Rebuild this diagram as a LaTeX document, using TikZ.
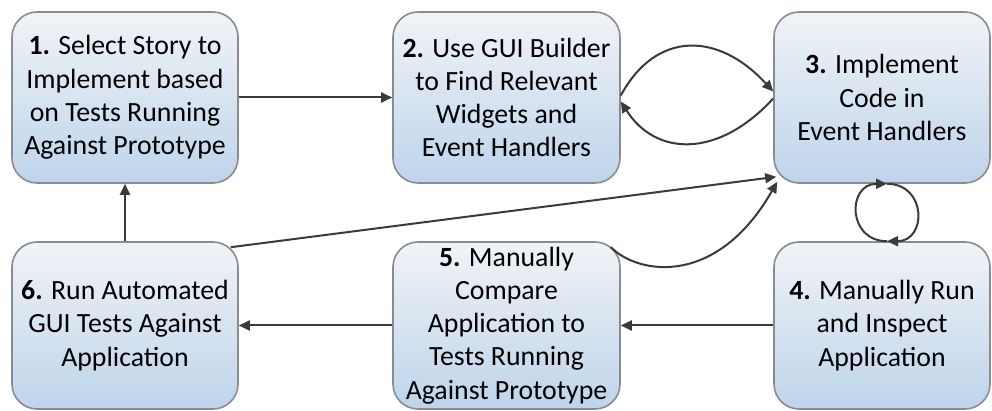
\documentclass[tikz,border=0pt]{standalone}
\usepackage{fontspec}
\setmainfont{Carlito}
\usetikzlibrary{arrows.meta}

\definecolor{boxtop}{RGB}{241,243,246}
\definecolor{boxbottom}{RGB}{190,212,235}
\definecolor{boxline}{RGB}{135,140,148}
\definecolor{flowline}{RGB}{58,58,58}

\tikzset{
    stepbox/.style={rectangle, rounded corners=12.5pt, draw=boxline, line width=0.8pt,
        top color=boxtop, bottom color=boxbottom, align=center, inner sep=0pt,
        font=\fontsize{13.9}{16.6}\selectfont},
    flow/.style={-{Triangle[length=5.5pt,width=5pt]}, line width=1pt, draw=flowline},
}

\begin{document}
\begin{tikzpicture}[x=0.5pt, y=-0.5pt]
            \useasboundingbox (0,0) rectangle (992,411);

            % Top row of steps
            \node[stepbox, minimum width=113pt, minimum height=85.5pt] (select) at (125,97.5)
                {\textbf{1.} Select Story to\\Implement based\\on Tests Running\\Against Prototype};
            \node[stepbox, minimum width=113.5pt, minimum height=85.5pt] (builder) at (506.5,97.5)
                {\textbf{2.} Use GUI Builder\\to Find Relevant\\Widgets and\\Event Handlers};
            \node[stepbox, minimum width=108pt, minimum height=85.5pt] (implement) at (882,97.5)
                {\textbf{3.} Implement\\Code in\\Event Handlers};

            % Bottom row of steps
            \node[stepbox, minimum width=108pt, minimum height=83.5pt] (inspect) at (882,325.5)
                {\textbf{4.} Manually Run\\and Inspect\\Application};
            \node[stepbox, minimum width=113.5pt, minimum height=83.5pt] (compare) at (506.5,325.5)
                {\textbf{5.} Manually\\Compare\\Application to\\Tests Running\\Against Prototype};
            \node[stepbox, minimum width=113pt, minimum height=83.5pt] (automate) at (125,325.5)
                {\textbf{6.} Run Automated\\GUI Tests Against\\Application};

            % Straight connectors
            \draw[flow] (select) -- (builder);
            \draw[flow] (inspect) -- (compare);
            \draw[flow] (compare) -- (automate);
            \draw[flow] (automate) -- (select);
            \draw[flow] ([xshift=-4pt,yshift=-3pt]automate.north east) -- ([xshift=1.5pt,yshift=3.5pt]implement.south west);

            % Back and forth between builder and code
            \draw[flow] ([yshift=1pt]builder.east) .. controls +(35,-65) and +(-55,-60) .. ([yshift=3pt]implement.west);
            \draw[flow] ([yshift=-0.5pt]implement.west) .. controls +(-55,60) and +(35,55) .. ([yshift=-2pt]builder.east);

            % Comparison back to code
            \draw[flow] ([xshift=-5pt,yshift=-3pt]compare.north east) .. controls +(28,28) and +(-60,105) .. ([xshift=2pt,yshift=1pt]implement.south west);

            % Loop between code and inspection
            \draw[flow] ([xshift=2.5pt]inspect.north) .. controls +(-40,0) and +(-40,0) .. ([xshift=2.5pt]implement.south);
            \draw[flow] ([xshift=2.5pt]implement.south) .. controls +(40,0) and +(40,0) .. ([xshift=2.5pt]inspect.north);
        \end{tikzpicture}
\end{document}
